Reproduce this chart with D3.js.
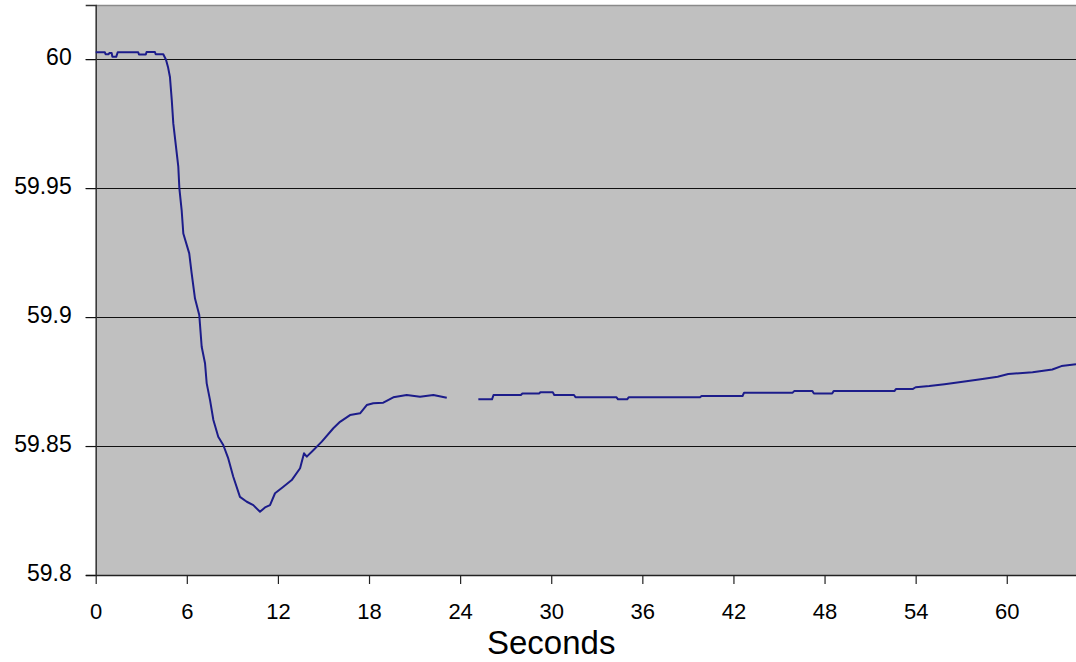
<!DOCTYPE html>
<html>
<head>
<meta charset="utf-8">
<script src="https://cdn.jsdelivr.net/npm/d3@7"></script>
<style>
  html, body { margin: 0; padding: 0; background: #ffffff; }
  svg { display: block; }
  text { font-family: "Liberation Sans", Arial, sans-serif; fill: #000; }
</style>
</head>
<body>
<svg id="chart" width="1076" height="662"></svg>
<script>
// ---- data ----
const seconds = [
  0, 0.6, 0.65, 0.85, 0.9, 1.05, 1.1, 1.35, 1.45, 2.8, 2.85, 3.3, 3.35, 3.9, 3.95, 4.45,
  4.63, 4.76, 4.89, 5.01, 5.11, 5.44, 5.51, 5.66, 5.77, 6.16, 6.32, 6.54, 6.82, 6.98,
  7.2, 7.31, 7.53, 7.75, 8.07, 8.4, 8.73, 9.06, 9.5, 9.95, 10.38, 10.82, 11.15, 11.48,
  11.81, 12.36, 12.91, 13.46, 13.72, 13.9, 14.33, 14.89, 15.65, 16.09, 16.75, 17.41,
  17.85, 18.28, 18.94, 19.6, 20.48, 21.36, 22.24, 23.12,
  24.2,
  25.2, 26.1, 26.2, 28.0, 28.1, 29.2, 29.3, 30.1, 30.2, 31.5, 31.6, 34.3, 34.4, 35.0,
  35.1, 39.8, 39.9, 42.6, 42.7, 45.9, 46.0, 47.2, 47.3, 48.5, 48.6, 52.6, 52.7, 53.8,
  54.0, 54.9, 55.9, 57.1, 58.4, 59.4, 60.1, 61.7, 63.0, 63.6, 64.56
];
const frequency = [
  60.0027, 60.0027, 60.0019, 60.0019, 60.0024, 60.0024, 60.0009, 60.0009, 60.0027, 60.0027,
  60.0018, 60.0018, 60.0028, 60.0028, 60.0019, 60.0019,
  59.9998, 59.9970, 59.9931, 59.9841, 59.9751, 59.9583, 59.9499, 59.9415, 59.9324, 59.9247,
  59.9169, 59.9072, 59.9008, 59.8885, 59.8821, 59.8743, 59.8678, 59.8601, 59.8536, 59.8504,
  59.8452, 59.8381, 59.8303, 59.8284, 59.8271, 59.8245, 59.8262, 59.8271, 59.8317, 59.8342,
  59.8368, 59.8414, 59.8472, 59.8459, 59.8484, 59.8517, 59.8569, 59.8594, 59.8620, 59.8627,
  59.8659, 59.8666, 59.8668, 59.8689, 59.8698, 59.8691, 59.8698, 59.8687,
  null,
  59.8681, 59.8681, 59.8698, 59.8698, 59.8704, 59.8704, 59.8709, 59.8709, 59.8698, 59.8698,
  59.8689, 59.8689, 59.8681, 59.8681, 59.8689, 59.8689, 59.8694, 59.8694, 59.8707, 59.8707,
  59.8713, 59.8713, 59.8704, 59.8704, 59.8713, 59.8713, 59.8721, 59.8721, 59.8728, 59.8733,
  59.8740, 59.8749, 59.8760, 59.8769, 59.8779, 59.8786, 59.8797, 59.8810, 59.8817
];
const xTicks = [0, 6, 12, 18, 24, 30, 36, 42, 48, 54, 60];
const yTicks = [59.8, 59.85, 59.9, 59.95, 60];
const yTickLabels = ["59.8", "59.85", "59.9", "59.95", "60"];
const xTitle = "Seconds";
const xDomain = [0, 64.56];
const yDomain = [59.8, 60.021];

// ---- layout ----
const svg = d3.select("#chart");
const plot = { left: 95.7, right: 1076, top: 5, bottom: 575 };

const x = d3.scaleLinear().domain(xDomain).range([plot.left, plot.right]);
const y = d3.scaleLinear().domain(yDomain).range([plot.bottom, plot.top]);

// plot background
svg.append("rect")
  .attr("x", plot.left).attr("y", plot.top)
  .attr("width", plot.right - plot.left).attr("height", plot.bottom - plot.top)
  .attr("fill", "#c0c0c0");

// top border
svg.append("line")
  .attr("x1", plot.left).attr("x2", plot.right)
  .attr("y1", plot.top + 0.5).attr("y2", plot.top + 0.5)
  .attr("stroke", "#8a8a8a").attr("stroke-width", 1.5);

// gridlines (with tick extension to the left)
svg.append("g").selectAll("line")
  .data(yTicks.filter(v => v !== 59.8))
  .join("line")
  .attr("x1", plot.left - 10).attr("x2", plot.right)
  .attr("y1", d => Math.round(y(d)) + 0.5).attr("y2", d => Math.round(y(d)) + 0.5)
  .attr("stroke", "#111").attr("stroke-width", 1.2);

// y axis
const yAxis = d3.axisLeft(y).tickValues(yTicks)
  .tickFormat((d, i) => yTickLabels[i]).tickSize(10).tickPadding(14);
const gy = svg.append("g").attr("transform", `translate(${plot.left},0)`).call(yAxis);
gy.select(".domain").attr("stroke", "#333").attr("stroke-width", 1.5);
gy.selectAll(".tick line").attr("stroke", "#111").attr("stroke-width", 1.2);
gy.selectAll(".tick text")
  .attr("font-size", 23).attr("font-family", "Liberation Sans, Arial, sans-serif")
  .attr("fill", "#000").attr("dy", "0.22em");

// x axis
const xAxis = d3.axisBottom(x).tickValues(xTicks).tickSize(9).tickPadding(19).tickSizeOuter(0);
const gx = svg.append("g").attr("transform", `translate(0,${plot.bottom})`).call(xAxis);
gx.select(".domain").attr("stroke", "#222").attr("stroke-width", 1.5);
gx.selectAll(".tick line").attr("stroke", "#222").attr("stroke-width", 1.2);
gx.selectAll(".tick text")
  .attr("font-size", 22).attr("font-family", "Liberation Sans, Arial, sans-serif")
  .attr("fill", "#000");

// x title
svg.append("text")
  .attr("x", x(30)).attr("y", 654)
  .attr("text-anchor", "middle")
  .attr("font-size", 33)
  .text(xTitle);

// frequency line
const pts = seconds.map((t, i) => ({ t, v: frequency[i] }));
const line = d3.line()
  .defined(d => d.v !== null)
  .x(d => x(d.t)).y(d => y(d.v));
svg.append("path")
  .datum(pts)
  .attr("d", line)
  .attr("fill", "none")
  .attr("stroke", "#1c1c8a")
  .attr("stroke-width", 2)
  .attr("stroke-linejoin", "round");
</script>
</body>
</html>
